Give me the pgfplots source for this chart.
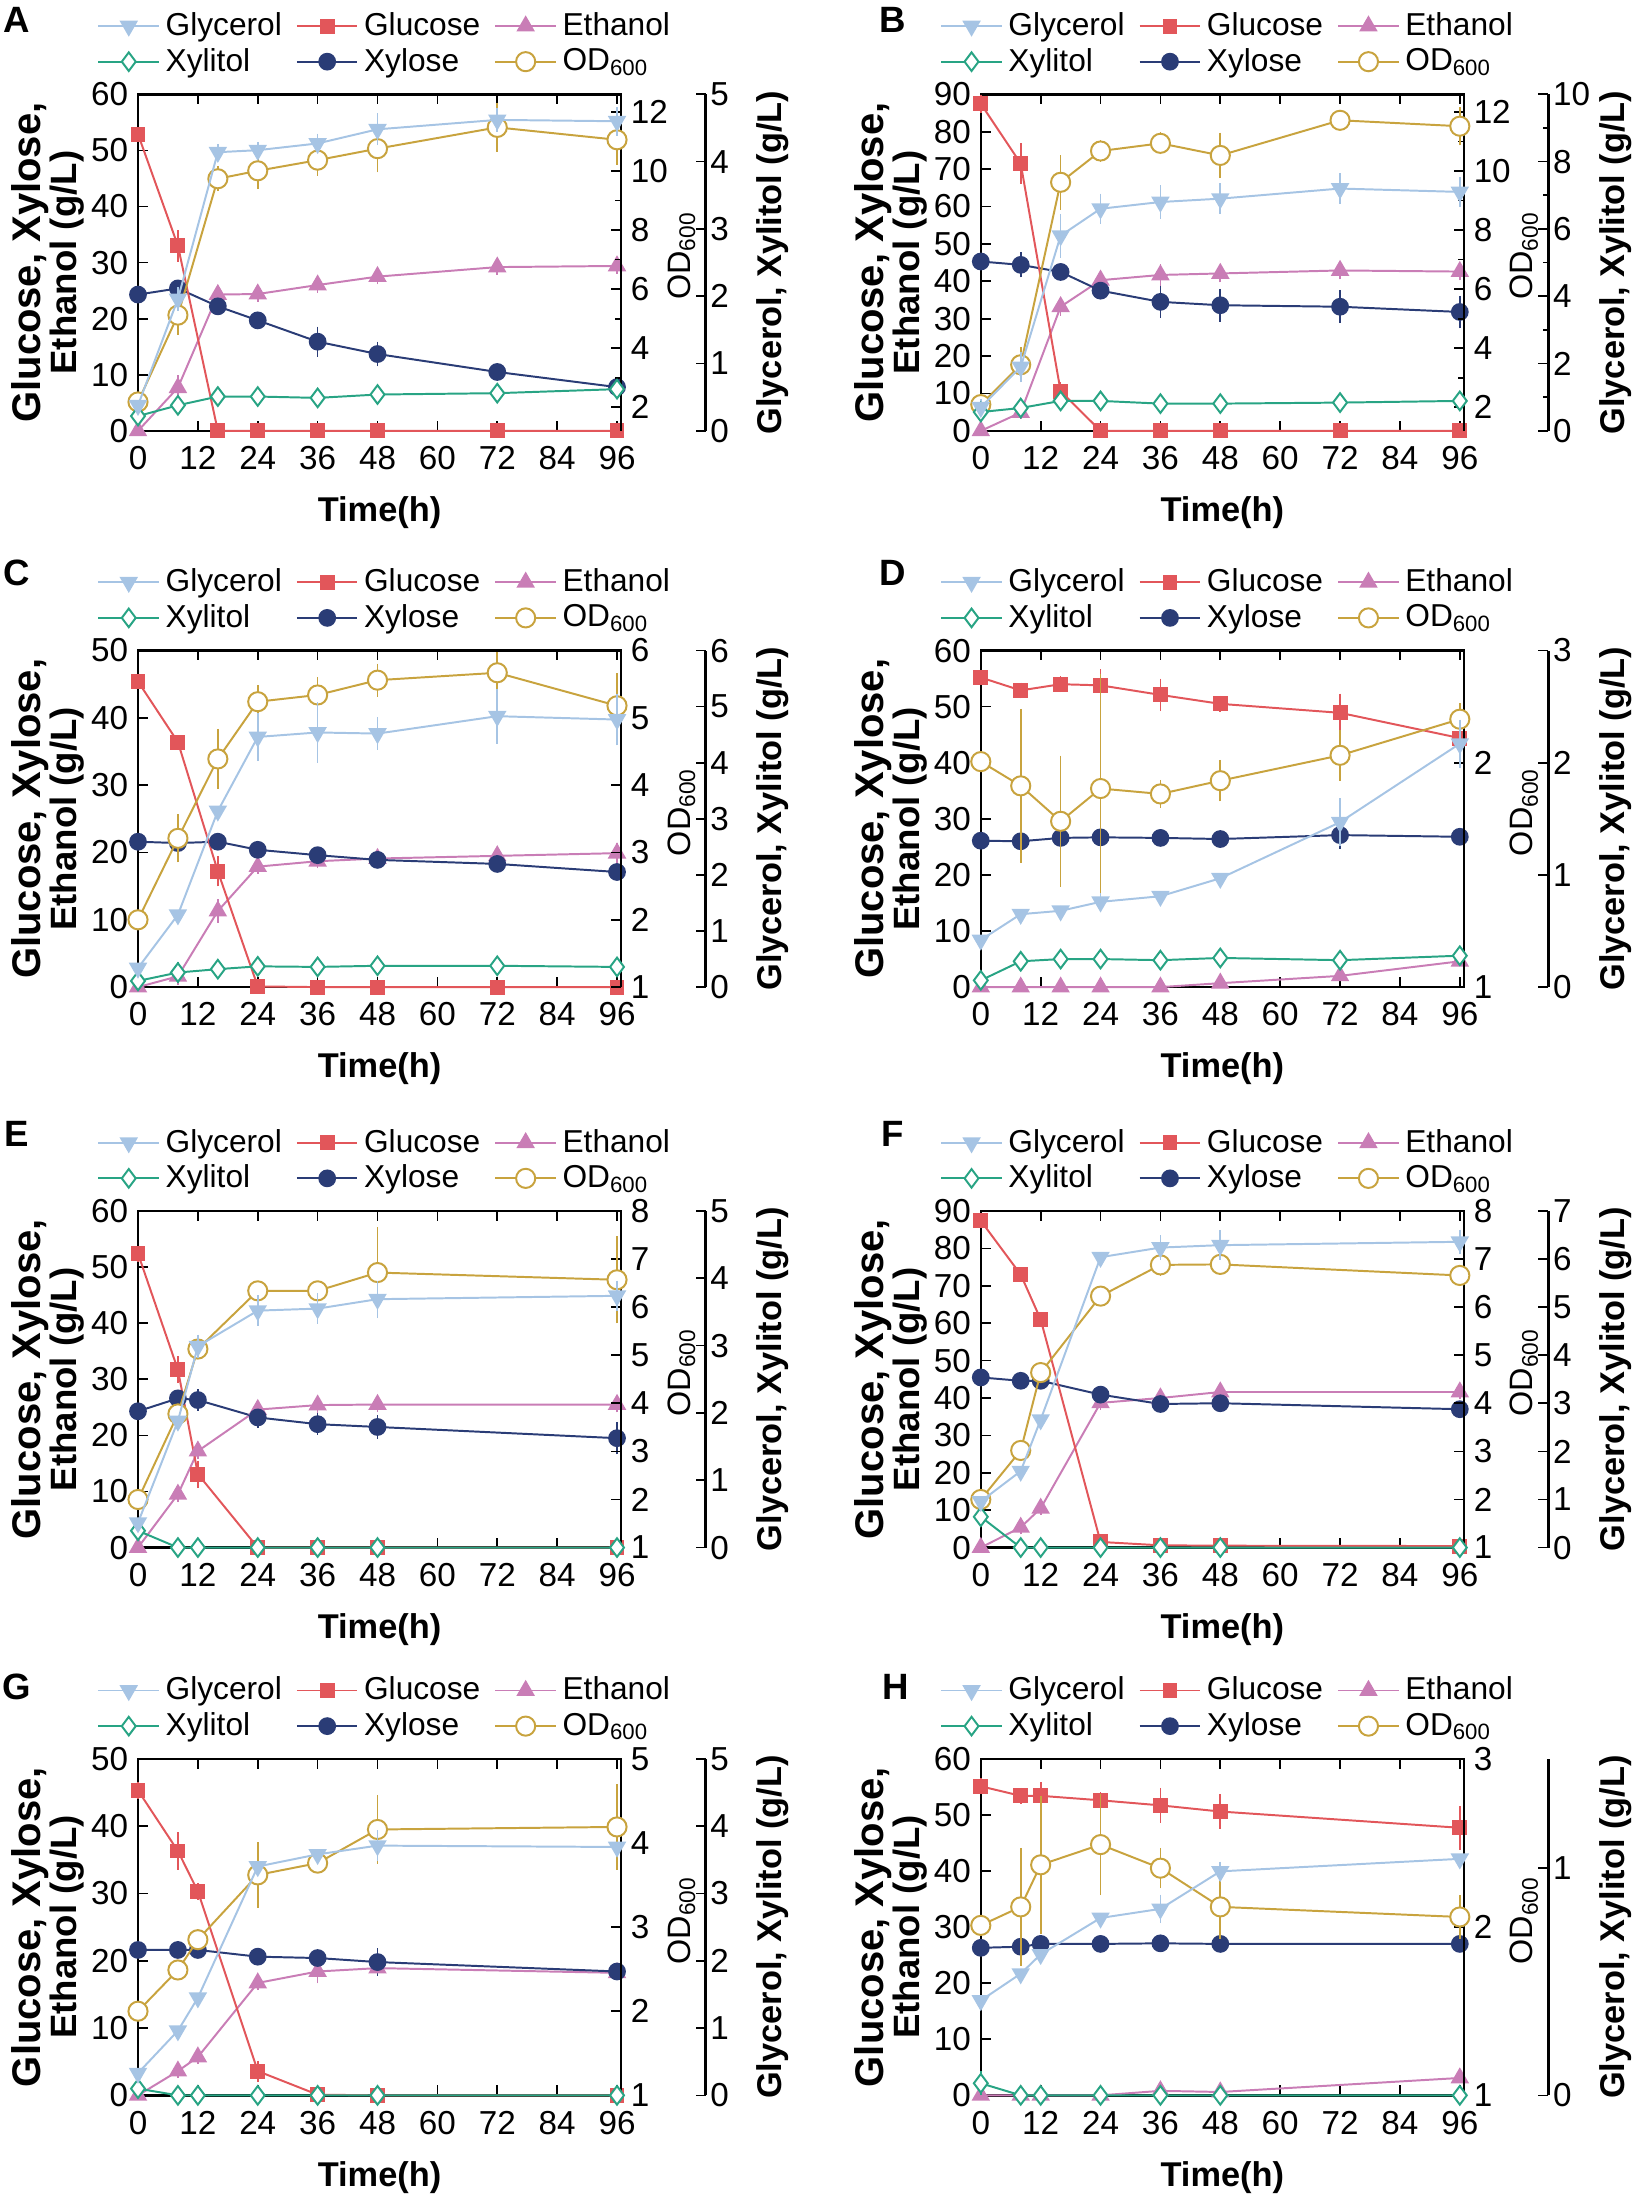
\documentclass[border=0pt]{standalone}
\usepackage{fontspec}
\setmainfont{Liberation Sans}
\usepackage{pgfplots}
\usepackage{pgfplotstable}
\pgfplotsset{compat=1.18}

\definecolor{cgly}{RGB}{166,196,228}
\definecolor{cglc}{RGB}{226,86,90}
\definecolor{ceth}{RGB}{201,125,182}
\definecolor{cxlt}{RGB}{40,164,132}
\definecolor{cxyl}{RGB}{42,60,118}
\definecolor{cod}{RGB}{200,163,62}

\pgfplotstableread{
t glc eglc xyl exyl eth eeth gly egly xlt ext od eod
0  52.9 0   24.3 0   0    0   0.38 0    0.22 0    2.18 0.15
8  33.0 1.9 25.4 0.5 7.7  1.3 1.96 0.1  0.38 0.03 5.12 0.5
16 0    0   22.2 0.5 24.3 0.5 4.14 0.05 0.51 0.03 9.74 0.25
24 0    0   19.7 0.5 24.4 0.5 4.17 0.05 0.51 0.03 10.01 0.45
36 0    0   15.9 1.8 26.0 0.5 4.27 0.07 0.49 0.03 10.37 0.36
48 0    0   13.7 1.3 27.5 0.5 4.48 0.16 0.54 0.03 10.76 0.63
72 0    0   10.5 0.5 29.2 0.5 4.62 0.1  0.56 0.03 11.48 0.66
96 0    0   7.8  0.5 29.4 0.5 4.60 0.14 0.62 0.03 11.06 0.67
}\dataA

\pgfplotstableread{
t glc eglc xyl exyl eth eeth gly egly xlt ext od eod
0  87.5 1   45.3 1   0    0   0.7  0.1  0.56 0.03 2.09 0.2
8  71.5 4   44.4 2   4.9  0.5 1.9  0.3  0.68 0.05 3.44 0.42
16 10.6 1   42.5 1   33.2 1   5.8  0.5  0.89 0.05 9.62 0.75
24 0    0   37.5 1   40.3 1   6.6  0.3  0.89 0.05 10.68 0.2
36 0    0   34.5 3   41.7 1.5 6.8  0.35 0.81 0.05 10.94 0.2
48 0    0   33.6 3   42.1 1   6.9  0.3  0.81 0.05 10.53 0.6
72 0    0   33.2 3   42.9 1   7.2  0.3  0.84 0.05 11.72 0.15
96 0    0   31.8 3   42.6 1   7.1  0.3  0.89 0.05 11.52 0.48
}\dataB

\pgfplotstableread{
t glc eglc xyl exyl eth eeth gly egly xlt ext od eod
0  45.4 0   21.6 0.3 0    0   0.34 0    0.11 0.03 2.00 0.05
8  36.4 0   21.4 0.5 1.6  0.5 1.29 0    0.26 0.1  3.21 0.28
16 17.2 1.5 21.6 0.3 11.3 1   3.14 0    0.32 0.05 4.39 0.37
24 0.1  0   20.4 0.3 17.9 0.3 4.46 0.34 0.37 0.03 5.24 0.17
36 0    0   19.6 0.3 18.7 0.3 4.54 0.45 0.36 0.03 5.34 0.19
48 0    0   18.9 0.3 19.1 0.3 4.52 0.2  0.38 0.03 5.56 0.17
72 0    0   18.3 0.3 19.5 0.5 4.83 0.4  0.38 0.03 5.67 0.23
96 0    0   17.1 0.3 19.9 0.8 4.77 0.37 0.36 0.03 5.18 0.41
}\dataC

\pgfplotstableread{
t glc eglc xyl exyl eth eeth gly egly xlt ext od eod
0  55.2 0.5 26.1 0.3 0   0   0.42 0    0.06 0.03 2.005 0.02
8  52.9 0.5 26.0 0.3 0   0   0.65 0    0.23 0.02 1.897 0.32
16 54.0 0.5 26.6 0.3 0   0   0.68 0    0.25 0.02 1.739 0.27
24 53.8 2   26.7 0.3 0   0   0.76 0.03 0.25 0.02 1.885 0.49
36 52.1 2   26.6 0.3 0   0   0.81 0    0.24 0.02 1.861 0.04
48 50.5 0.5 26.4 0.3 0.7 0   0.97 0    0.26 0.02 1.92  0.07
72 48.9 2.5 27.1 1.5 2.0 0   1.47 0.17 0.24 0.02 2.033 0.09
96 44.4 0.5 26.8 0.3 4.6 0   2.17 0.17 0.28 0.02 2.194 0.05
}\dataD

\pgfplotstableread{
t glc eglc xyl exyl eth eeth gly egly xlt ext od eod
0  52.4 0.5 24.3 0.3 0    0   0.37 0    0.25 0.05 2.00 0.05
8  31.7 1.5 26.6 0.5 9.5  0.5 1.88 0    0    0    3.78 0.1
12 13.1 1.5 26.3 1   17.2 0.5 2.99 0.1  0    0    5.13 0.1
24 0    0   23.2 1   24.6 0.5 3.52 0.15 0    0    6.34 0.1
36 0    0   22.0 1   25.4 0.5 3.55 0.15 0    0    6.34 0.1
48 0    0   21.5 1.2 25.5 0.5 3.69 0.2  0    0    6.72 0.84
96 0    0   19.5 2   25.5 0.5 3.74 0.15 0    0    6.57 0.8
}\dataE

\pgfplotstableread{
t glc eglc xyl exyl eth eeth gly egly xlt ext od eod
0  87.4 0.5 45.5 0.5 0    0   0.96 0    0.64 0.05 2.00 0.05
8  73.0 0.5 44.6 0.5 5.4  0.5 1.59 0    0    0    3.02 0.05
12 61.0 0.5 44.6 0.5 10.5 0.5 2.66 0    0    0    4.64 0.05
24 1.5  0.5 40.9 0.5 38.7 0.5 6.04 0    0    0    6.23 0.05
36 0.6  0.3 38.4 0.5 40.0 1   6.24 0.15 0    0    6.88 0.12
48 0.5  0.3 38.6 0.5 41.6 1   6.29 0.2  0    0    6.89 0.05
96 0.4  0.3 37.0 0.5 41.6 0.5 6.36 0.15 0    0    6.66 0.05
}\dataF

\pgfplotstableread{
t glc eglc xyl exyl eth eeth gly egly xlt ext od eod
0  45.3 0.5 21.6 0.3 0    0   0.33 0    0.1  0.03 2.00 0.05
8  36.3 2   21.6 0.3 3.6  0.3 0.96 0    0    0    2.49 0.05
12 30.3 0.5 21.6 0.3 5.7  0.3 1.45 0    0    0    2.85 0.05
24 3.6  0.8 20.6 0.3 16.7 0.3 3.40 0    0    0    3.62 0.33
36 0.1  0   20.4 0.3 18.4 1   3.58 0    0    0    3.76 0.05
48 0    0   19.8 1.3 18.9 0.3 3.71 0.15 0    0    4.16 0.35
96 0    0   18.4 0.3 18.2 0.3 3.69 0    0    0    4.19 0.45
}\dataG

\pgfplotstableread{
t glc eglc xyl exyl eth eeth gly egly xlt ext od eod
0  55.1 0.5 26.3 0.3 0    0   0.417 0    0.053 0.03 2.01 0.02
8  53.4 0.5 26.5 0.3 0    0   0.535 0    0     0    2.12 0.32
12 53.4 1.5 27.0 0.3 0    0   0.62  0    0     0    2.37 0.38
24 52.6 0.5 27.0 0.3 0    0   0.78  0    0     0    2.49 0.27
36 51.7 2.2 27.1 0.3 0.8  0   0.82  0.04 0     0    2.35 0.09
48 50.6 2.2 27.0 0.3 0.6  0   0.985 0.02 0     0    2.12 0.16
96 47.7 3   27.0 0.3 3.1  0   1.04  0    0     0    2.06 0.1
}\dataH

\pgfplotsset{
  glyS/.style={color=cgly, mark=triangle*, mark size=3.1pt, mark options={rotate=180, fill=cgly}},
  glcS/.style={color=cglc, mark=square*, mark size=2.3pt},
  ethS/.style={color=ceth, mark=triangle*, mark size=3.1pt},
  xltS/.style={color=cxlt, mark=diamond*, mark size=3.3pt, mark options={fill=white}},
  xylS/.style={color=cxyl, mark=*, mark size=2.8pt},
  odS/.style={color=cod, mark=*, mark size=3.4pt, mark options={fill=white}},
  eb/.style={error bars/y dir=both, error bars/y explicit,
    error bars/error bar style={line width=0.6pt},
    error bars/error mark options={line width=0.6pt, mark size=1.8pt}},
  base/.style={
    scale only axis, width=171.5pt, height=119.5pt,
    xmin=0, xmax=96.8, clip=false, anchor=south west,
    axis line style={line width=0.9pt, black},
    tick style={line width=0.6pt, black},
    major tick length=3.5pt, minor tick length=2pt,
    tick align=inside,
    ticklabel style={font=\fontsize{11.8}{12.3}\selectfont},
    /pgf/number format/assume math mode=true,
    label style={font=\bfseries\fontsize{12.2}{13.5}\selectfont, align=center},
    every axis plot/.append style={line width=0.7pt},
  },
  mainax/.style={base,
    xtick={0,12,...,96}, ytick pos=left,
    xlabel={Time(h)},
    xlabel style={at={(axis description cs:0.5,-0.243)}, anchor=center},
    xticklabel style={yshift=-2pt},
    ylabel={{\fontsize{14.2}{12.8}\selectfont Glucose, Xylose,}\\{\fontsize{13}{12.8}\selectfont Ethanol (g/L)}},
    ylabel style={at={(axis description cs:-0.187,0.5)}, anchor=center, rotate=0, font=\bfseries\fontsize{13}{12.8}\selectfont},
    legend columns=3, legend cell align=left,
    legend image code/.code={\draw[mark repeat=2,mark phase=2] plot coordinates {(0pt,0pt) (10.75pt,0pt) (21.5pt,0pt)};},
    legend style={at={(axis description cs:-0.085,1.15)}, anchor=west, draw=none, fill=none, inner sep=0pt,
      font=\fontsize{11.25}{12}\selectfont, /tikz/row sep=-1pt,
      /tikz/every even column/.append style={column sep=3pt},
      nodes={inner sep=2pt}},
  },
  odax/.style={base, hide x axis, axis y line*=right,
    ylabel={OD\textsubscript{600}},
    ylabel style={font=\fontsize{11.5}{12}\selectfont, at={(axis description cs:1.125,0.52)}, anchor=center, rotate=0},
  },
  rax/.style={base, hide x axis, axis y line*=right,
    ylabel={Glycerol, Xylitol (g/L)},
    ylabel style={at={(axis description cs:1.14,0.5)}, anchor=center, rotate=0},
    yticklabel style={inner xsep=1.5pt},
  },
}

\newcommand{\panel}[6]{%
\begin{axis}[mainax, at={(#1,#2)}, #4]
\addlegendimage{glyS}\addlegendentry{Glycerol}
\addlegendimage{glcS}\addlegendentry{Glucose}
\addlegendimage{ethS}\addlegendentry{Ethanol}
\addlegendimage{xltS}\addlegendentry{Xylitol}
\addlegendimage{xylS}\addlegendentry{Xylose}
\addlegendimage{odS}\addlegendentry{OD\textsubscript{600}}
\addplot[ethS, eb, forget plot] table[x=t, y=eth, y error=eeth] {#3};
\addplot[xylS, eb, forget plot] table[x=t, y=xyl, y error=exyl] {#3};
\addplot[glcS, eb, forget plot] table[x=t, y=glc, y error=eglc] {#3};
\end{axis}
\begin{axis}[odax, at={(#1,#2)}, #5]
\addplot[odS, eb] table[x=t, y=od, y error=eod] {#3};
\end{axis}
\begin{axis}[base, hide axis, at={(#1,#2)}, #6]
\addplot[xltS, eb] table[x=t, y=xlt, y error=ext] {#3};
\addplot[glyS, eb] table[x=t, y=gly, y error=egly] {#3};
\end{axis}
\begin{axis}[rax, at={(#1+30pt,#2)}, #6]
\end{axis}
}

\begin{document}
\begin{tikzpicture}
\path[use as bounding box] (0pt,0pt) rectangle (580pt,784pt);

\panel{49pt}{631pt}{\dataA}{ymin=0,ymax=60,ytick={0,10,...,60}}{ymin=1.2,ymax=12.6,ytick={2,4,...,12},minor y tick num=1}{ymin=0,ymax=5,ytick={0,...,5}}
\panel{348.25pt}{631pt}{\dataB}{ymin=0,ymax=90,ytick={0,10,...,90}}{ymin=1.2,ymax=12.6,ytick={2,4,...,12},minor y tick num=1}{ymin=0,ymax=10,ytick={0,2,...,10},minor y tick num=1}
\panel{49pt}{433.5pt}{\dataC}{ymin=0,ymax=50,ytick={0,10,...,50}}{ymin=1,ymax=6,ytick={1,...,6}}{ymin=0,ymax=6,ytick={0,...,6}}
\panel{348.25pt}{433.5pt}{\dataD}{ymin=0,ymax=60,ytick={0,10,...,60}}{ymin=1,ymax=2.5,ytick={1,2}}{ymin=0,ymax=3,ytick={0,...,3}}
\panel{49pt}{234.5pt}{\dataE}{ymin=0,ymax=60,ytick={0,10,...,60}}{ymin=1,ymax=8,ytick={1,...,8}}{ymin=0,ymax=5,ytick={0,...,5}}
\panel{348.25pt}{234.5pt}{\dataF}{ymin=0,ymax=90,ytick={0,10,...,90}}{ymin=1,ymax=8,ytick={1,...,8}}{ymin=0,ymax=7,ytick={0,...,7}}
\panel{49pt}{40pt}{\dataG}{ymin=0,ymax=50,ytick={0,10,...,50}}{ymin=1,ymax=5,ytick={1,...,5}}{ymin=0,ymax=5,ytick={0,...,5}}
\panel{348.25pt}{40pt}{\dataH}{ymin=0,ymax=60,ytick={0,10,...,60}}{ymin=1,ymax=3,ytick={1,2,3}}{ymin=0,ymax=1.48,ytick={0,1}}

\begin{scope}[every node/.style={font=\bfseries\fontsize{13}{14}\selectfont}]
\node at (6pt,777pt) {A};
\node at (317pt,777pt) {B};
\node at (6pt,580.5pt) {C};
\node at (317pt,580.5pt) {D};
\node at (6pt,381.5pt) {E};
\node at (317pt,381.5pt) {F};
\node at (6pt,185pt) {G};
\node at (318pt,185pt) {H};
\end{scope}
\end{tikzpicture}
\end{document}
